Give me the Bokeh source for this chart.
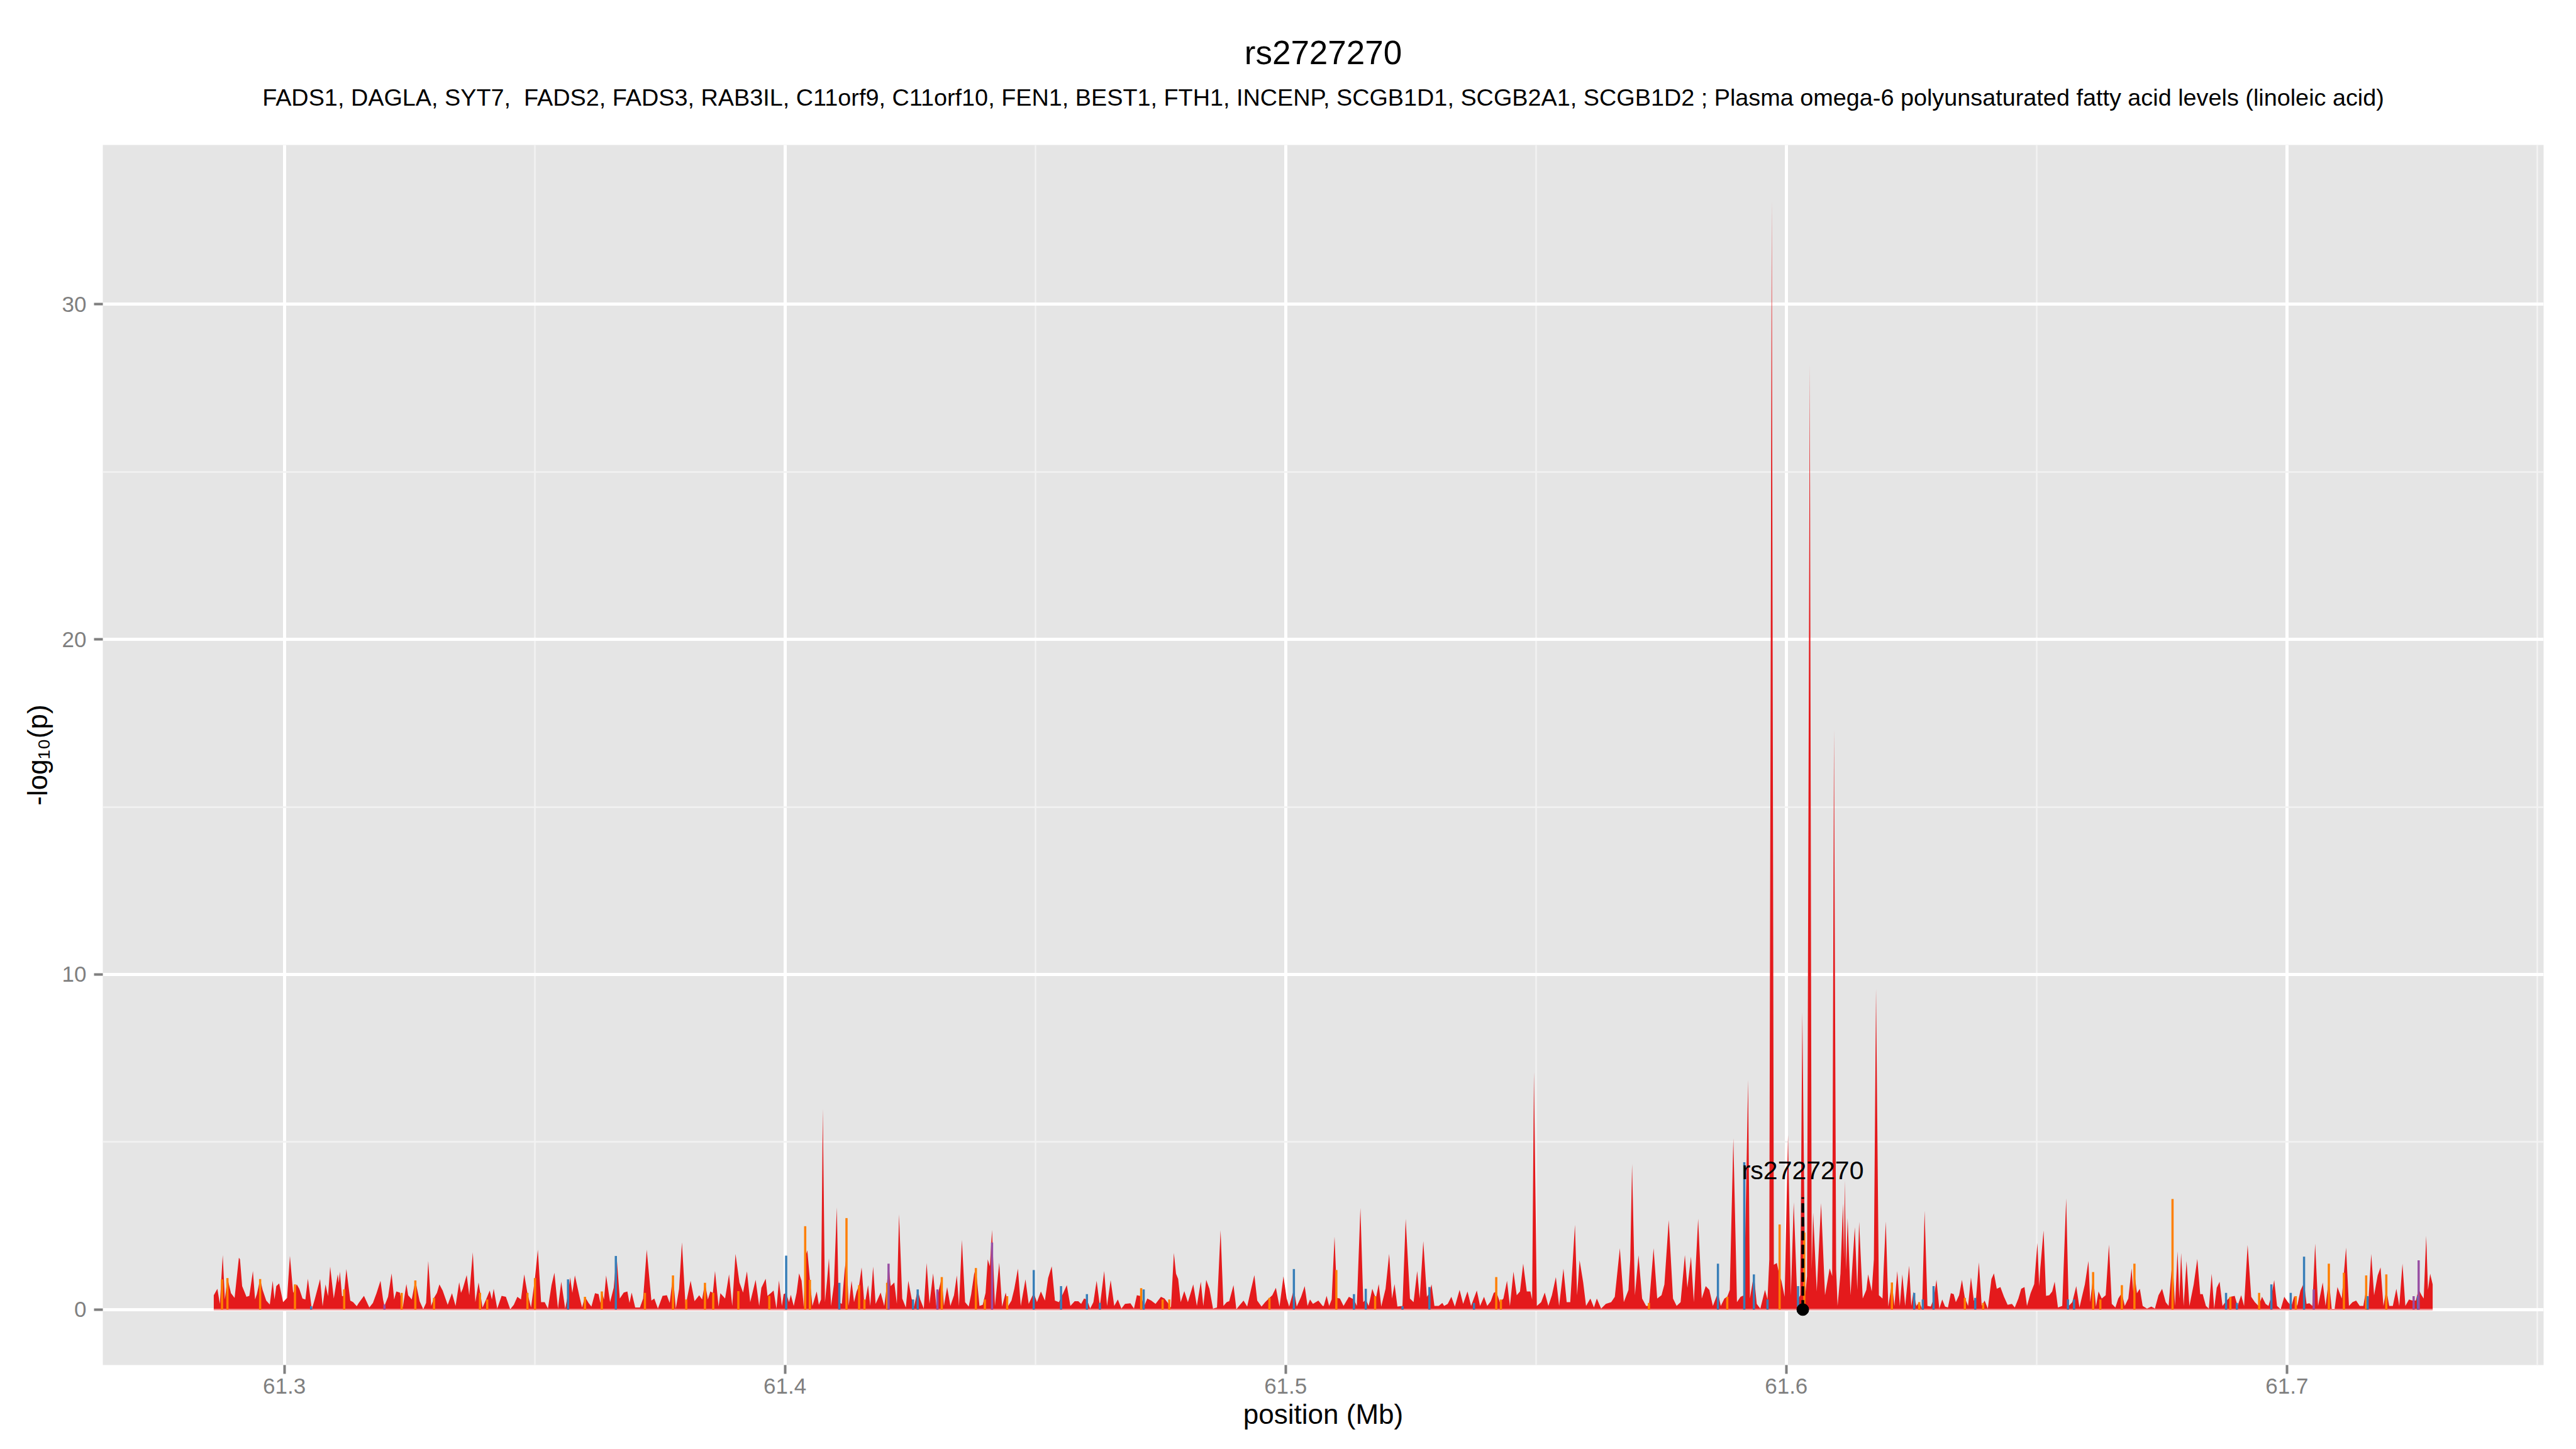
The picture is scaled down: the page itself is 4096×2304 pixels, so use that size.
from bokeh.plotting import figure
from bokeh.models import Range1d, FixedTicker, Label, Title
from bokeh.embed import file_html
from bokeh.resources import INLINE

# ---------------- data ----------------
title_text = "rs2727270"
subtitle_text = ("FADS1, DAGLA, SYT7,\u00a0 FADS2, FADS3, RAB3IL, C11orf9, C11orf10, FEN1, BEST1, FTH1, "
                 "INCENP, SCGB1D1, SCGB2A1, SCGB1D2 ; Plasma omega-6 polyunsaturated fatty acid levels (linoleic acid)")
x_title = "position (Mb)"
y_title = "-log\u2081\u2080(p)"

x_ticks = [61.3, 61.4, 61.5, 61.6, 61.7]
x_tick_labels = ["61.3", "61.4", "61.5", "61.6", "61.7"]
x_minor = [61.35, 61.45, 61.55, 61.65, 61.75]
y_ticks = [0, 10, 20, 30]
y_tick_labels = ["0", "10", "20", "30"]
y_minor = [5, 15, 25]

lead_snp = "rs2727270"
lead_pos = 61.6033
lead_label_lp = 4.15
lead_line_top = 3.35

# red series (-log10 p by position, Mb), four stretches
red_pos_1 = [
    61.28591, 61.28663, 61.28713, 61.28770, 61.28813, 61.28864, 61.28935, 61.29007, 61.29093, 61.29115,
    61.29158, 61.29244, 61.29301, 61.29373, 61.29416, 61.29452, 61.29517, 61.29567, 61.29639, 61.29710,
    61.29768, 61.29804, 61.29840, 61.29897, 61.29976, 61.30055, 61.30112, 61.30177, 61.30249, 61.30299,
    61.30364, 61.30421, 61.30471, 61.30550, 61.30607, 61.30658, 61.30715, 61.30765, 61.30823, 61.30873,
    61.30916, 61.30988, 61.31067, 61.31088, 61.31110, 61.31153, 61.31189, 61.31239, 61.31318, 61.31375,
    61.31447, 61.31483, 61.31591, 61.31698, 61.31770, 61.31842, 61.31921, 61.31972, 61.32000, 61.32072,
    61.32143, 61.32194, 61.32237, 61.32308, 61.32366, 61.32438, 61.32474, 61.32546, 61.32617, 61.32703,
    61.32775, 61.32832, 61.32875, 61.32933, 61.32990, 61.33048, 61.33098, 61.33163, 61.33263, 61.33349,
    61.33421, 61.33493, 61.33529, 61.33564, 61.33643, 61.33694, 61.33765, 61.33816, 61.33880, 61.33959,
    61.34030, 61.34103, 61.34146, 61.34182, 61.34253, 61.34340, 61.34426, 61.34512, 61.34584, 61.34655,
    61.34727, 61.34792, 61.34856, 61.34928, 61.35007, 61.35064, 61.35129, 61.35201, 61.35265, 61.35337,
    61.35395, 61.35466, 61.35531, 61.35610, 61.35660, 61.35710, 61.35753, 61.35804, 61.35897, 61.35947,
    61.36005, 61.36077, 61.36134, 61.36206, 61.36277, 61.36313, 61.36342, 61.36385, 61.36428, 61.36507,
    61.36579, 61.36636, 61.36701, 61.36780, 61.36852, 61.36895, 61.36938, 61.37009, 61.37103, 61.37167,
    61.37239, 61.37332, 61.37390, 61.37462, 61.37555, 61.37641, 61.37698, 61.37763, 61.37820, 61.37885,
    61.37942, 61.38014, 61.38115, 61.38194, 61.38287, 61.38345, 61.38402, 61.38460, 61.38509, 61.38560,
    61.38603, 61.38674, 61.38710, 61.38804, 61.38883, 61.38947, 61.39012, 61.39091, 61.39163, 61.39241,
    61.39306, 61.39414, 61.39485, 61.39529, 61.39615]
red_lp_1 = [
    0.43, 0.62, 0.17, 1.63, 0.30, 0.94, 0.49, 0.35, 1.55, 1.50,
    0.70, 0.38, 0.41, 1.15, 0.30, 0.46, 0.91, 0.59, 0.27, 0.15,
    0.86, 0.30, 0.70, 0.78, 0.22, 0.35, 1.60, 0.50, 0.75, 0.62,
    0.33, 0.30, 0.92, 0.01, 0.30, 0.59, 0.91, 0.10, 0.75, 0.40,
    1.28, 0.33, 1.05, 0.80, 1.13, 0.40, 0.41, 1.21, 0.27, 0.22,
    0.10, 0.19, 0.41, 0.06, 0.20, 0.49, 0.86, 0.30, 0.11, 0.38,
    1.08, 0.30, 0.54, 0.51, 0.06, 0.76, 0.43, 0.30, 0.87, 0.25,
    0.01, 0.20, 1.45, 0.11, 0.35, 0.50, 0.75, 0.57, 0.14, 0.49,
    0.11, 0.82, 0.50, 0.62, 1.03, 0.43, 1.71, 0.22, 0.81, 0.06,
    0.30, 0.57, 0.30, 0.62, 0.03, 0.41, 0.38, 0.01, 0.14, 0.38,
    0.30, 1.05, 0.49, 0.06, 0.94, 1.79, 0.22, 0.22, 0.03, 0.73,
    1.10, 0.03, 0.83, 0.03, 0.40, 0.96, 0.50, 1.02, 0.38, 0.06,
    0.38, 0.20, 0.09, 0.49, 0.46, 0.20, 0.54, 0.30, 1.02, 0.22,
    0.65, 1.61, 0.33, 0.51, 0.54, 0.20, 0.51, 0.06, 0.06, 0.33,
    1.79, 0.27, 0.33, 0.03, 0.41, 0.43, 0.20, 1.02, 0.03, 0.62,
    2.01, 0.11, 0.86, 0.25, 0.43, 0.30, 0.80, 0.30, 0.54, 0.50,
    1.15, 0.09, 0.49, 0.33, 1.05, 0.11, 1.66, 0.81, 0.51, 1.14,
    0.22, 0.89, 0.11, 0.65, 0.92]

red_pos_2 = [
    61.39651, 61.39722, 61.39773, 61.39830, 61.39880, 61.39938, 61.39974, 61.40024, 61.40081, 61.40117,
    61.40175, 61.40232, 61.40282, 61.40332, 61.40376, 61.40411, 61.40447, 61.40498, 61.40548, 61.40634,
    61.40677, 61.40720, 61.40756, 61.40799, 61.40842, 61.40878, 61.40921, 61.40978, 61.41036, 61.41072,
    61.41136, 61.41194, 61.41229, 61.41273, 61.41330, 61.41380, 61.41431, 61.41481, 61.41531, 61.41588,
    61.41660, 61.41703, 61.41761, 61.41811, 61.41911, 61.41983, 61.42034, 61.42069, 61.42112, 61.42184,
    61.42235, 61.42278, 61.42343, 61.42414, 61.42464, 61.42529, 61.42579, 61.42651, 61.42701, 61.42773,
    61.42830, 61.42887, 61.42959, 61.43024, 61.43067, 61.43132, 61.43175, 61.43239, 61.43304, 61.43376,
    61.43433, 61.43476, 61.43534, 61.43598, 61.43670, 61.43720, 61.43777, 61.43813, 61.43885, 61.43950,
    61.44007, 61.44050, 61.44093, 61.44136, 61.44194, 61.44280, 61.44337, 61.44409, 61.44459, 61.44524,
    61.44581, 61.44653, 61.44710, 61.44804, 61.44868, 61.44969, 61.45033, 61.45112, 61.45192, 61.45256,
    61.45328, 61.45392, 61.45471, 61.45557, 61.45629, 61.45701, 61.45787, 61.45859, 61.45916, 61.45974,
    61.46031, 61.46096, 61.46161, 61.46225, 61.46290, 61.46376, 61.46433, 61.46505, 61.46577, 61.46649,
    61.46720, 61.46792, 61.46900, 61.46971, 61.47029, 61.47115, 61.47172, 61.47237, 61.47316, 61.47402,
    61.47510, 61.47581, 61.47653, 61.47710, 61.47768, 61.47811, 61.47854, 61.47904, 61.47976, 61.48048,
    61.48155, 61.48227, 61.48306, 61.48356, 61.48414, 61.48478, 61.48550, 61.48629, 61.48701, 61.48758,
    61.48823, 61.48873, 61.48959, 61.49016, 61.49088, 61.49160, 61.49232, 61.49304, 61.49376, 61.49433,
    61.49519, 61.49591, 61.49677, 61.49734, 61.49806, 61.49878, 61.49957, 61.50021, 61.50071, 61.50165,
    61.50222, 61.50309, 61.50381, 61.50438, 61.50488, 61.50546, 61.50654, 61.50739]
red_lp_2 = [
    0.41, 0.50, 0.57, 0.03, 0.87, 0.11, 0.46, 0.50, 0.22, 0.44,
    0.11, 0.50, 1.08, 0.86, 0.06, 1.60, 1.77, 0.89, 0.11, 0.54,
    0.14, 0.30, 5.99, 0.22, 0.89, 1.53, 0.11, 0.75, 3.05, 0.22,
    0.17, 1.20, 1.60, 0.11, 0.86, 0.22, 0.54, 0.73, 1.26, 0.11,
    0.73, 0.11, 1.28, 0.17, 0.51, 0.11, 0.70, 1.37, 0.70, 0.81,
    0.17, 2.84, 0.33, 0.06, 0.86, 0.33, 0.09, 0.59, 0.30, 0.03,
    1.39, 0.17, 1.08, 0.11, 0.54, 0.97, 0.11, 0.67, 0.11, 0.43,
    1.02, 0.11, 2.08, 0.22, 0.09, 0.46, 1.05, 1.24, 0.11, 0.14,
    0.50, 1.50, 1.29, 2.38, 0.11, 1.40, 0.09, 0.51, 0.11, 0.27,
    0.62, 1.22, 0.11, 0.90, 0.17, 0.50, 0.22, 0.54, 0.27, 0.94,
    1.29, 0.27, 0.22, 0.49, 0.73, 0.11, 0.25, 0.25, 0.17, 0.33,
    0.30, 0.03, 0.22, 0.86, 0.11, 1.15, 0.11, 0.88, 0.11, 0.30,
    0.03, 0.17, 0.19, 0.03, 0.43, 0.40, 0.09, 0.33, 0.27, 0.17,
    0.38, 0.33, 0.19, 0.06, 1.69, 1.07, 0.91, 0.22, 0.55, 0.22,
    0.75, 0.11, 0.83, 0.11, 0.89, 0.62, 0.03, 0.06, 2.37, 0.11,
    0.22, 0.25, 0.73, 0.01, 0.14, 0.27, 0.09, 0.57, 1.03, 0.27,
    0.09, 0.22, 0.35, 0.43, 0.65, 0.09, 0.99, 0.33, 0.09, 0.60,
    0.09, 0.38, 0.70, 0.11, 0.30, 0.17, 0.27, 0.11]

red_pos_3 = [
    61.50762, 61.50819, 61.50869, 61.50920, 61.50977, 61.51027, 61.51085, 61.51157, 61.51264, 61.51365,
    61.51422, 61.51494, 61.51551, 61.51601, 61.51659, 61.51731, 61.51802, 61.51860, 61.51910, 61.51996,
    61.52068, 61.52125, 61.52176, 61.52233, 61.52334, 61.52398, 61.52484, 61.52556, 61.52628, 61.52678,
    61.52750, 61.52822, 61.52872, 61.52915, 61.52972, 61.53058, 61.53130, 61.53166, 61.53238, 61.53310,
    61.53381, 61.53475, 61.53546, 61.53633, 61.53704, 61.53819, 61.53884, 61.53963, 61.54027, 61.54099,
    61.54157, 61.54207, 61.54279, 61.54350, 61.54422, 61.54480, 61.54551, 61.54616, 61.54681, 61.54745,
    61.54817, 61.54889, 61.54924, 61.54960, 61.55018, 61.55104, 61.55176, 61.55248, 61.55319, 61.55398,
    61.55463, 61.55549, 61.55614, 61.55685, 61.55779, 61.55822, 61.55872, 61.55944, 61.56001, 61.56087,
    61.56159, 61.56216, 61.56302, 61.56396, 61.56503, 61.56575, 61.56676, 61.56755, 61.56848, 61.56884,
    61.56920, 61.56977, 61.57049, 61.57121, 61.57200, 61.57257, 61.57350, 61.57422, 61.57508, 61.57566,
    61.57652, 61.57738, 61.57810, 61.57889, 61.57975, 61.58025, 61.58097, 61.58154, 61.58240, 61.58312,
    61.58391, 61.58463, 61.58534, 61.58635, 61.58692, 61.58764, 61.58821, 61.58872, 61.58943, 61.59015,
    61.59087, 61.59159, 61.59238, 61.59274, 61.59353, 61.59410, 61.59482, 61.59575, 61.59625, 61.59661,
    61.59710, 61.59752, 61.59812, 61.59867, 61.59903, 61.59967, 61.60035, 61.60092, 61.60149, 61.60221,
    61.60279, 61.60321, 61.60379, 61.60415, 61.60470, 61.60508, 61.60537, 61.60609, 61.60695, 61.60774,
    61.60867, 61.60917, 61.60953, 61.60996, 61.61025, 61.61082, 61.61133, 61.61154, 61.61168, 61.61197,
    61.61226, 61.61283, 61.61369, 61.61419, 61.61455, 61.61527, 61.61599, 61.61635, 61.61707, 61.61750,
    61.61793, 61.61850, 61.61922]
red_lp_3 = [
    0.11, 0.41, 0.11, 0.30, 2.18, 0.35, 0.33, 0.11, 0.38, 0.30,
    0.11, 3.03, 0.22, 0.30, 0.11, 0.62, 0.33, 0.76, 0.09, 0.62,
    1.66, 0.33, 0.76, 0.09, 0.11, 2.71, 0.33, 0.22, 1.15, 0.33,
    2.04, 0.38, 0.50, 0.75, 0.11, 0.11, 0.20, 0.11, 0.17, 0.38,
    0.09, 0.59, 0.17, 0.54, 0.11, 0.57, 0.11, 0.38, 0.11, 0.25,
    0.50, 0.54, 0.22, 0.33, 0.86, 0.11, 1.13, 0.43, 0.54, 1.37,
    0.54, 0.54, 0.30, 7.08, 0.11, 0.22, 0.51, 0.11, 0.43, 0.97,
    0.11, 1.22, 0.22, 0.22, 2.53, 0.43, 1.47, 0.81, 0.11, 0.33,
    0.06, 0.33, 0.03, 0.17, 0.22, 0.38, 1.83, 0.22, 0.59, 1.50,
    4.34, 0.43, 1.62, 0.33, 0.11, 0.11, 1.83, 0.33, 0.43, 0.75,
    2.67, 0.33, 0.11, 0.22, 1.63, 0.65, 1.58, 0.22, 2.71, 0.33,
    0.70, 0.59, 0.11, 0.50, 0.11, 0.33, 0.38, 0.59, 5.11, 0.22,
    0.38, 0.43, 6.85, 0.33, 1.05, 0.17, 0.03, 0.59, 0.30, 1.50,
    33.10, 1.34, 1.39, 1.00, 0.86, 0.38, 5.21, 0.43, 3.20, 0.27,
    0.43, 8.88, 0.43, 1.00, 28.20, 1.20, 2.89, 0.54, 3.18, 0.43,
    1.23, 1.00, 17.30, 1.20, 0.11, 1.07, 3.16, 1.50, 3.85, 1.20,
    2.73, 0.43, 2.46, 0.59, 2.62, 0.33, 0.59, 1.05, 0.54, 1.50,
    9.57, 0.43, 0.33]

red_pos_4 = [
    61.61945, 61.61988, 61.62038, 61.62110, 61.62160, 61.62217, 61.62268, 61.62318, 61.62375, 61.62454,
    61.62497, 61.62540, 61.62598, 61.62655, 61.62713, 61.62763, 61.62820, 61.62885, 61.62942, 61.63000,
    61.63057, 61.63115, 61.63172, 61.63229, 61.63287, 61.63344, 61.63387, 61.63452, 61.63509, 61.63567,
    61.63631, 61.63689, 61.63746, 61.63789, 61.63847, 61.63904, 61.63961, 61.64026, 61.64098, 61.64148,
    61.64205, 61.64277, 61.64349, 61.64421, 61.64507, 61.64564, 61.64636, 61.64693, 61.64758, 61.64808,
    61.64880, 61.64952, 61.65016, 61.65052, 61.65074, 61.65139, 61.65189, 61.65253, 61.65311, 61.65361,
    61.65426, 61.65512, 61.65591, 61.65641, 61.65713, 61.65792, 61.65856, 61.65964, 61.66035, 61.66071,
    61.66129, 61.66186, 61.66237, 61.66301, 61.66380, 61.66445, 61.66502, 61.66574, 61.66631, 61.66703,
    61.66761, 61.66832, 61.66897, 61.66933, 61.66954, 61.67004, 61.67062, 61.67119, 61.67205, 61.67292,
    61.67363, 61.67435, 61.67507, 61.67579, 61.67636, 61.67686, 61.67715, 61.67765, 61.67815, 61.67851,
    61.67887, 61.67937, 61.67995, 61.68052, 61.68138, 61.68210, 61.68268, 61.68318, 61.68382, 61.68440,
    61.68497, 61.68547, 61.68598, 61.68655, 61.68713, 61.68784, 61.68870, 61.68957, 61.69014, 61.69086,
    61.69144, 61.69215, 61.69287, 61.69359, 61.69431, 61.69503, 61.69574, 61.69631, 61.69689, 61.69746,
    61.69803, 61.69875, 61.69947, 61.70019, 61.70090, 61.70148, 61.70206, 61.70270, 61.70342, 61.70392,
    61.70449, 61.70507, 61.70564, 61.70622, 61.70715, 61.70772, 61.70837, 61.70894, 61.70952, 61.71009,
    61.71095, 61.71181, 61.71239, 61.71310, 61.71382, 61.71454, 61.71526, 61.71583, 61.71626, 61.71684,
    61.71741, 61.71813, 61.71870, 61.71928, 61.71985, 61.72043, 61.72115, 61.72186, 61.72244, 61.72308,
    61.72366, 61.72438, 61.72509, 61.72574, 61.72631, 61.72689, 61.72732, 61.72782, 61.72818, 61.72861,
    61.72911]
red_lp_4 = [
    1.20, 2.63, 0.09, 0.81, 0.11, 1.15, 0.11, 1.05, 0.11, 1.31,
    0.11, 0.53, 0.11, 0.22, 0.03, 2.95, 0.11, 0.09, 0.30, 0.89,
    0.03, 0.30, 0.09, 0.06, 0.49, 0.46, 0.22, 0.43, 0.89, 0.35,
    0.11, 0.96, 0.27, 0.30, 1.41, 0.11, 0.27, 0.03, 0.91, 1.08,
    0.62, 0.67, 0.38, 0.14, 0.17, 0.06, 0.33, 0.62, 0.67, 0.11,
    0.49, 0.76, 1.99, 0.70, 1.24, 2.36, 0.41, 0.43, 0.54, 0.83,
    0.06, 0.11, 3.32, 0.11, 0.22, 0.70, 0.06, 0.75, 1.45, 0.22,
    1.00, 0.09, 0.54, 0.33, 0.43, 1.94, 0.17, 0.06, 0.33, 0.50,
    0.11, 0.33, 1.23, 0.50, 1.10, 0.49, 0.62, 0.11, 0.03, 0.09,
    0.03, 0.43, 0.62, 0.22, 0.11, 1.00, 1.50, 0.11, 1.74, 0.33,
    1.69, 0.11, 1.45, 0.11, 0.75, 1.51, 0.46, 0.46, 0.11, 0.03,
    1.07, 0.03, 0.65, 0.83, 0.11, 0.25, 0.38, 0.41, 0.11, 0.43,
    0.11, 1.93, 0.38, 0.22, 0.11, 0.38, 0.17, 0.11, 0.40, 0.88,
    0.11, 0.01, 0.38, 0.22, 0.11, 0.41, 0.11, 0.57, 0.80, 0.17,
    0.19, 0.11, 1.97, 0.11, 0.81, 0.11, 0.90, 0.03, 0.01, 0.67,
    0.33, 1.85, 0.11, 0.22, 0.27, 0.11, 0.11, 0.60, 0.22, 1.66,
    0.43, 1.02, 1.26, 0.11, 0.60, 0.11, 0.11, 0.62, 0.11, 1.37,
    0.11, 0.30, 0.27, 0.27, 0.60, 0.43, 0.33, 2.20, 0.59, 1.07,
    0.75]

orange_pos = [61.28756, 61.28864, 61.29517, 61.30213, 61.31196, 61.32344, 61.32617, 61.32990, 61.33909, 61.34053,
              61.34856, 61.35007, 61.36005, 61.36342, 61.37203, 61.37763, 61.38028, 61.38402, 61.38567, 61.39069,
              61.39687, 61.40404, 61.40498, 61.41229, 61.41481, 61.41588, 61.42041, 61.43132, 61.43813, 61.43993,
              61.44438, 61.47115, 61.47543, 61.47676, 61.49677, 61.51013, 61.51788, 61.54207, 61.54300, 61.57257,
              61.58821, 61.59867, 61.60360, 61.62110, 61.62655, 61.63567, 61.63933, 61.66129, 61.66273, 61.66703,
              61.66954, 61.67715, 61.68870, 61.69445, 61.70177, 61.70837, 61.71138, 61.71583, 61.71985]
orange_lp = [0.90, 0.94, 0.91, 0.75, 0.60, 0.50, 0.87, 0.35, 0.50, 0.30,
             0.50, 0.94, 0.38, 0.54, 0.50, 1.02, 0.30, 0.80, 0.50, 0.55,
             0.41, 2.49, 0.89, 2.73, 0.73, 0.30, 0.80, 0.97, 1.24, 0.30,
             0.40, 0.64, 0.30, 0.30, 0.35, 1.18, 0.40, 0.97, 0.30, 0.20,
             0.38, 2.54, 2.30, 0.81, 0.22, 0.35, 0.20, 1.12, 0.30, 0.73,
             1.37, 3.30, 0.38, 0.50, 0.40, 1.37, 1.10, 1.02, 1.05]

blue_pos = [61.30536, 61.35667, 61.36622, 61.40024, 61.41086, 61.42558, 61.42651, 61.44969, 61.45514, 61.46031,
            61.46290, 61.47165, 61.50165, 61.51365, 61.51601, 61.52334, 61.52872, 61.53762, 61.58635, 61.59161,
            61.59353, 61.59625, 61.60235, 61.62555, 61.62727, 61.62942, 61.63775, 61.65626, 61.65748, 61.68784,
            61.69000, 61.69689, 61.70076, 61.70342, 61.71612, 61.72617]
blue_lp = [0.10, 0.90, 1.60, 1.61, 0.80, 0.30, 0.60, 1.18, 0.70, 0.46,
           0.20, 0.60, 1.21, 0.46, 0.62, 0.10, 0.67, 0.20, 1.37, 4.40,
           1.05, 0.30, 0.70, 0.50, 0.30, 0.70, 0.35, 0.30, 0.30, 0.50,
           0.20, 0.75, 0.50, 1.58, 0.40, 0.40]

purple_pos = [61.32000, 61.42069, 61.43045, 61.44136, 61.70536, 61.72531, 61.72631]
purple_lp = [0.15, 1.37, 0.60, 2.00, 0.60, 0.40, 1.47]

red_pos = red_pos_1 + red_pos_2 + red_pos_3 + red_pos_4
red_lp = red_lp_1 + red_lp_2 + red_lp_3 + red_lp_4
assert len(red_pos) == len(red_lp)
assert len(orange_pos) == len(orange_lp)
assert len(blue_pos) == len(blue_lp)

# ---------------- layout ----------------
W, H = 4080, 2300
ML, MR, MT, MB = 163, 36, 230, 130
FONT = "Liberation Sans"

xspan = max(red_pos) - min(red_pos)
yspan = max(red_lp) - 0
x_range = Range1d(min(red_pos) - 0.05 * xspan, max(red_pos) + 0.05 * xspan)
y_range = Range1d(0 - 0.05 * yspan, max(red_lp) + 0.05 * yspan)

p = figure(width=W, height=H, output_backend="svg", toolbar_location=None, title=None,
           x_range=x_range, y_range=y_range,
           min_border_left=ML, min_border_right=MR, min_border_top=MT, min_border_bottom=MB)
p.background_fill_color = "#E5E5E5"
p.border_fill_color = "white"
p.outline_line_color = None

# titles: first added sits nearest the frame
p.add_layout(Title(text=subtitle_text, align="center", text_font=FONT, text_font_size="37.8px",
                   text_font_style="normal", text_color="black", standoff=110), "above")
p.add_layout(Title(text=title_text, align="center", text_font=FONT, text_font_size="53px",
                   text_font_style="normal", text_color="black", standoff=-73), "above")

p.xaxis.ticker = FixedTicker(ticks=x_ticks, minor_ticks=x_minor)
p.yaxis.ticker = FixedTicker(ticks=y_ticks, minor_ticks=y_minor)
p.xaxis.major_label_overrides = {t: l for t, l in zip(x_ticks, x_tick_labels)}
p.yaxis.major_label_overrides = {t: l for t, l in zip(y_ticks, y_tick_labels)}
for ax in (p.xaxis[0], p.yaxis[0]):
    ax.axis_line_color = None
    ax.major_tick_line_color = "#7F7F7F"
    ax.major_tick_line_width = 4
    ax.major_tick_in = 0
    ax.major_tick_out = 14
    ax.minor_tick_line_color = None
    ax.major_label_text_font = FONT
    ax.major_label_text_font_size = "35px"
    ax.major_label_text_color = "#7F7F7F"
    ax.axis_label_text_font = FONT
    ax.axis_label_text_font_size = "44px"
    ax.axis_label_text_font_style = "normal"
    ax.axis_label_text_color = "black"
p.xaxis.axis_label = x_title
p.yaxis.axis_label = y_title
p.xaxis.major_label_standoff = 7
p.xaxis.axis_label_standoff = 5
p.yaxis.major_label_standoff = 12
p.yaxis.axis_label_standoff = 12

for g in (p.xgrid[0], p.ygrid[0]):
    g.grid_line_color = "white"
    g.grid_line_width = 5
    g.minor_grid_line_color = "#F2F2F2"
    g.minor_grid_line_width = 2.5

# red area
p.varea(x=red_pos, y1=0, y2=red_lp, fill_color="#E41A1C", fill_alpha=1.0)
p.line(x=[red_pos[0], red_pos[-1]], y=[0, 0], line_color="#F08A8B", line_width=2.5)

# other LD classes as thin spikes
p.segment(x0=orange_pos, y0=0, x1=orange_pos, y1=orange_lp, line_color="#FF7F00", line_width=3.5)
p.segment(x0=blue_pos, y0=0, x1=blue_pos, y1=blue_lp, line_color="#377EB8", line_width=3.5)
p.segment(x0=purple_pos, y0=0, x1=purple_pos, y1=purple_lp, line_color="#984EA3", line_width=3.5)

# lead SNP marker
p.segment(x0=[lead_pos], y0=[0], x1=[lead_pos], y1=[lead_line_top], line_color="black",
          line_width=4.5, line_dash="15 7")
p.scatter(x=[lead_pos], y=[0], size=19, fill_color="black", line_color="black")
p.add_layout(Label(x=lead_pos, y=lead_label_lp, text=lead_snp, text_align="center",
                   text_baseline="alphabetic", text_font=FONT, text_font_size="41px",
                   text_color="black"))

open("out.html", "w").write(file_html(p, INLINE))
